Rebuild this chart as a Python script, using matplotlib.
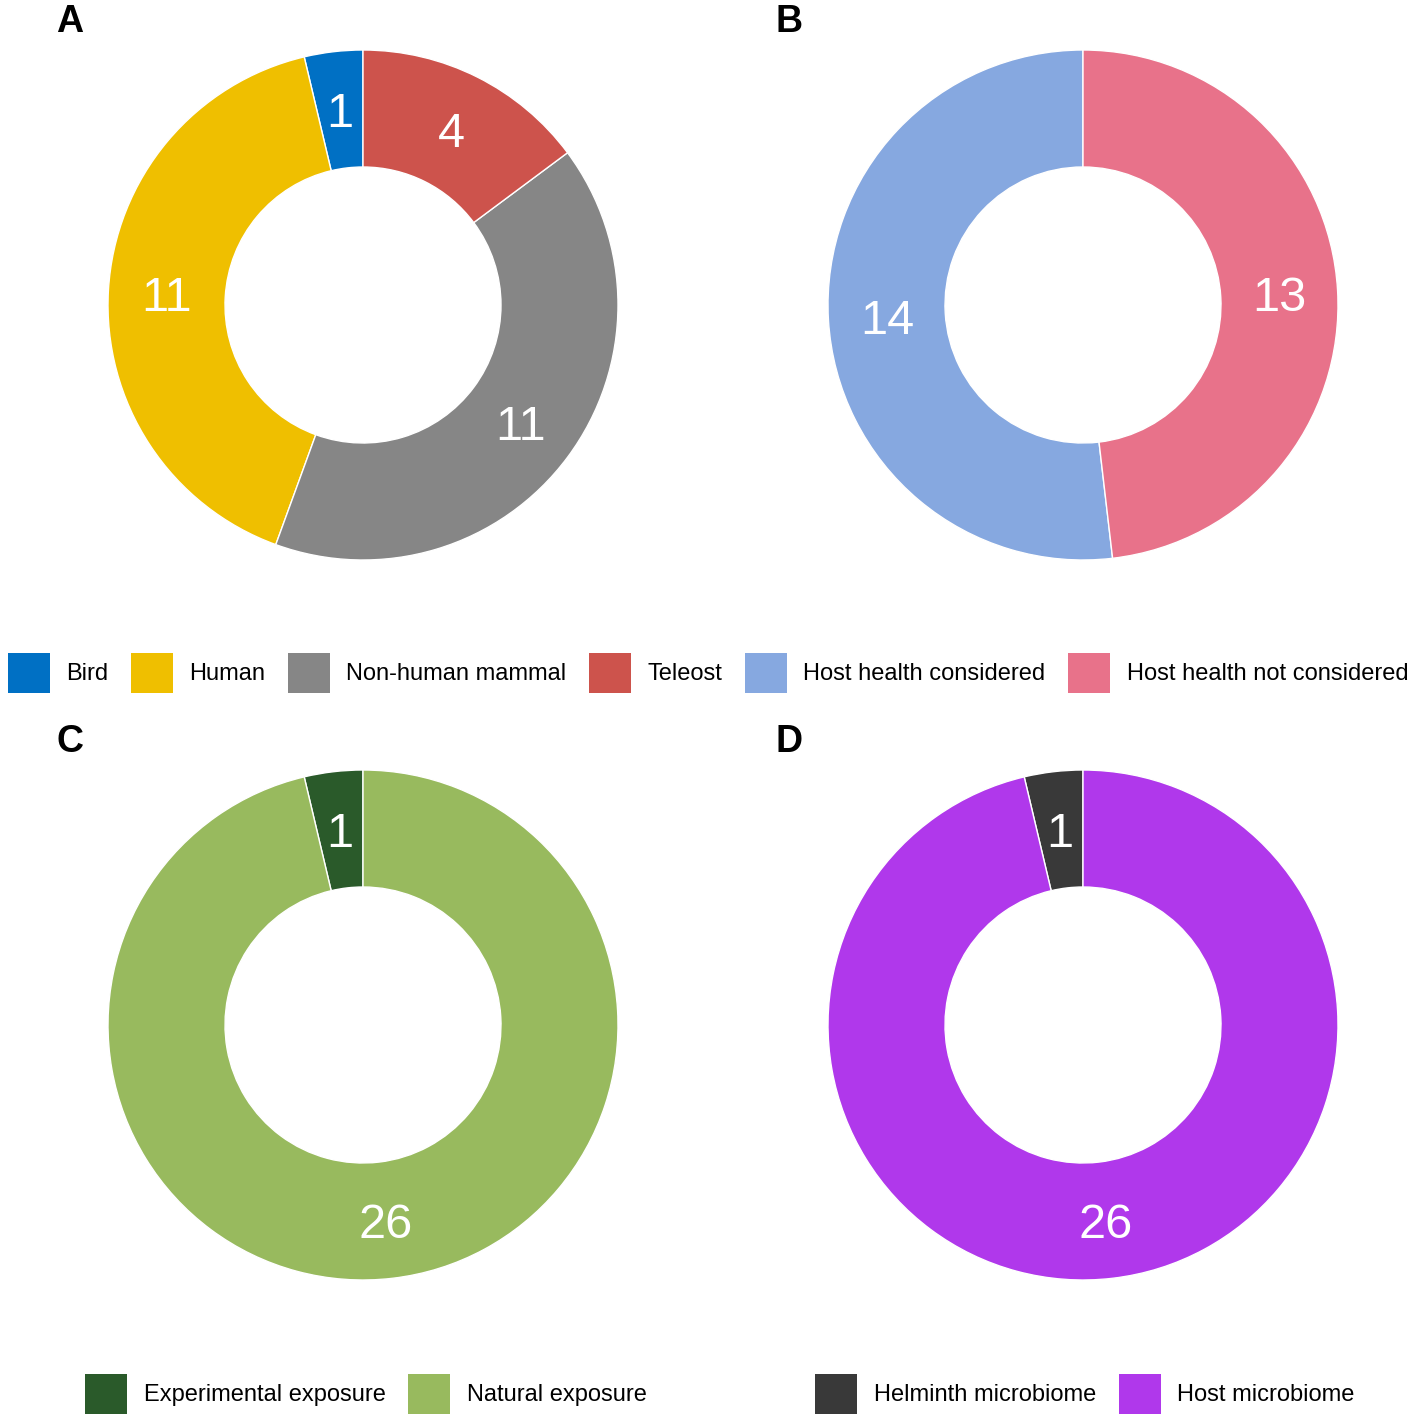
import matplotlib.pyplot as plt
from matplotlib.patches import Patch

plt.rcParams['font.family'] = ['Liberation Sans', 'DejaVu Sans']

# Panel data
hosts = ['Bird', 'Human', 'Non-human mammal', 'Teleost']
host_counts = [1, 11, 11, 4]
host_colors = ['#0070C4', '#EFBF00', '#868686', '#CD534C']

health = ['Host health considered', 'Host health not considered']
health_counts = [14, 13]
health_colors = ['#86A8E0', '#E8728A']

exposure = ['Experimental exposure', 'Natural exposure']
exposure_counts = [1, 26]
exposure_colors = ['#2A5A2A', '#98BA5E']

microbiome = ['Helminth microbiome', 'Host microbiome']
microbiome_counts = [1, 26]
microbiome_colors = ['#393939', '#B038EB']

W, H = 1417, 1422
fig = plt.figure(figsize=(W / 100, H / 100), dpi=100)

R_OUT = 255
R_IN = 138

def donut(cx, cy, counts, colors, letter):
    ax = fig.add_axes([(cx - R_OUT) / W, 1 - (cy + R_OUT) / H, 2 * R_OUT / W, 2 * R_OUT / H])
    total = sum(counts)
    wedges, texts, autotexts = ax.pie(
        counts, colors=colors, startangle=90, counterclock=True, radius=1,
        wedgeprops=dict(width=1 - R_IN / R_OUT, edgecolor='white', linewidth=1),
        autopct=lambda p: f'{round(p * total / 100)}',
        pctdistance=(1 + R_IN / R_OUT) / 2,
        textprops=dict(color='white', fontsize=35))
    for t in autotexts:
        t.set_va('center_baseline')
    ax.set_xlim(-1, 1)
    ax.set_ylim(-1, 1)
    ax.set_aspect('equal')
    ax.axis('off')
    fig.text((cx - 307) / W, 1 - 22 / H - (cy - 305) / H, letter, fontsize=27,
             fontweight='bold', va='center', ha='left')

donut(363, 305, host_counts, host_colors, 'A')
donut(1083, 305, health_counts, health_colors, 'B')
donut(363, 1025, exposure_counts, exposure_colors, 'C')
donut(1083, 1025, microbiome_counts, microbiome_colors, 'D')

def legend(names, colors, x, y):
    handles = [Patch(facecolor=c, edgecolor='none') for c in colors]
    fig.legend(handles, names, loc='center', bbox_to_anchor=(x / W, 1 - y / H),
               ncol=len(names), frameon=False, fontsize=17,
               handlelength=1.78, handleheight=2.23, handletextpad=0.7,
               columnspacing=0.95, borderaxespad=0, borderpad=0)

legend(hosts + health, host_colors + health_colors, 708, 673)
legend(exposure, exposure_colors, 366, 1394)
legend(microbiome, microbiome_colors, 1085, 1394)

fig.savefig('out.png', dpi=100, facecolor='white')
